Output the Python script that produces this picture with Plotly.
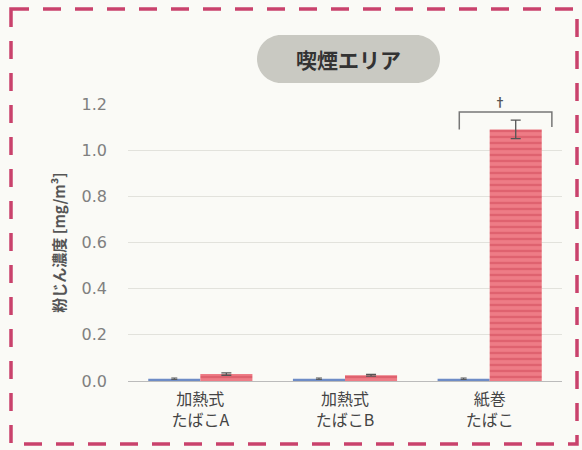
import plotly.graph_objects as go

categories = ["加熱式<br>たばこA", "加熱式<br>たばこB", "紙巻<br>たばこ"]
blue_vals = [0.01, 0.01, 0.01]
blue_err = [0.003, 0.003, 0.003]
red_vals = [0.03, 0.025, 1.09]
red_err = [0.005, 0.004, 0.04]
y_ticks = [0.0, 0.2, 0.4, 0.6, 0.8, 1.0, 1.2]
title_text = "喫煙エリア"
y_title = "粉じん濃度 [mg/m³]"
sig_mark = "†"

W, H = 582, 450
L, R, T, B = 128, 20, 104, 69
pw, ph = W - L - R, H - T - B


def px(x):
    return (x - L) / pw


def py(y):
    return (H - B - y) / ph


fig = go.Figure()
fig.add_trace(go.Bar(
    x=categories, y=blue_vals, marker=dict(color="#6E8CC6", line=dict(width=0)),
    error_y=dict(type="data", array=blue_err, color="#555", thickness=1, width=3),
    name="blue",
))
fig.add_trace(go.Bar(
    x=categories, y=red_vals,
    marker=dict(color="#EE7C86", line=dict(width=0),
                pattern=dict(shape="-", fgcolor="#D04858", size=6, solidity=0.4, fillmode="overlay")),
    error_y=dict(type="data", array=red_err, color="#555", thickness=1.3, width=5),
    name="red",
))

# pill background for title
cx1, cx2, cy, r = 281, 416, 59, 24
k = 0.5523 * r
path = (
    f"M {px(cx1)},{py(cy - r)} L {px(cx2)},{py(cy - r)} "
    f"C {px(cx2 + k)},{py(cy - r)} {px(cx2 + r)},{py(cy - k)} {px(cx2 + r)},{py(cy)} "
    f"C {px(cx2 + r)},{py(cy + k)} {px(cx2 + k)},{py(cy + r)} {px(cx2)},{py(cy + r)} "
    f"L {px(cx1)},{py(cy + r)} "
    f"C {px(cx1 - k)},{py(cy + r)} {px(cx1 - r)},{py(cy + k)} {px(cx1 - r)},{py(cy)} "
    f"C {px(cx1 - r)},{py(cy - k)} {px(cx1 - k)},{py(cy - r)} {px(cx1)},{py(cy - r)} Z"
)
shapes = [
    dict(type="path", xref="paper", yref="paper", path=path,
         fillcolor="#C9C9C2", line=dict(width=0), layer="below"),
    dict(type="rect", xref="paper", yref="paper",
         x0=px(11), x1=px(577), y0=py(9), y1=py(444),
         line=dict(color="#C9426C", width=3.5, dash="18px,14px"), fillcolor="rgba(0,0,0,0)"),
    # significance bracket
    dict(type="path", xref="x", yref="y",
         path="M 1.79,1.09 L 1.79,1.165 L 2.43,1.165 L 2.43,1.10",
         line=dict(color="#777", width=1.5)),
]

annotations = [
    dict(text=f"<b>{title_text}</b>", xref="paper", yref="paper", x=px(348), y=py(59),
         xanchor="center", yanchor="middle",
         showarrow=False, font=dict(size=21, color="#333", family="Noto Sans CJK JP")),
    dict(text=f"<b>{sig_mark}</b>", xref="x", yref="y", x=2.07, y=1.165, yanchor="bottom",
         showarrow=False, font=dict(size=12, color="#555")),
]

fig.update_layout(
    template="none",
    width=W, height=H, margin=dict(l=L, r=R, t=T, b=B, autoexpand=False),
    paper_bgcolor="#FAFAF6", plot_bgcolor="#FAFAF6",
    barmode="group", bargap=0.28, bargroupgap=0,
    showlegend=False, shapes=shapes, annotations=annotations,
    font=dict(family="Noto Sans CJK JP"),
    xaxis=dict(showline=True, linecolor="#BBB", linewidth=1, ticks="", showgrid=False,
               automargin=False, ticklabelstandoff=4,
               tickfont=dict(size=16, color="#444", family="Noto Sans CJK JP")),
    yaxis=dict(range=[0, 1.2], tickvals=y_ticks, tickformat=".1f", automargin=False,
               showgrid=True, gridcolor="#E2E2DC", zeroline=False, ticks="", showline=False,
               tickfont=dict(size=16, color="#808080", family="DejaVu Sans"),
               ticklabelstandoff=20,
               title=dict(text=f"<b>{y_title}</b>", standoff=12,
                          font=dict(size=15, color="#555", family="Noto Sans CJK JP"))),
)

fig.write_html("out.html", config={"displayModeBar": False},
               post_script="document.body.style.margin='0';")
